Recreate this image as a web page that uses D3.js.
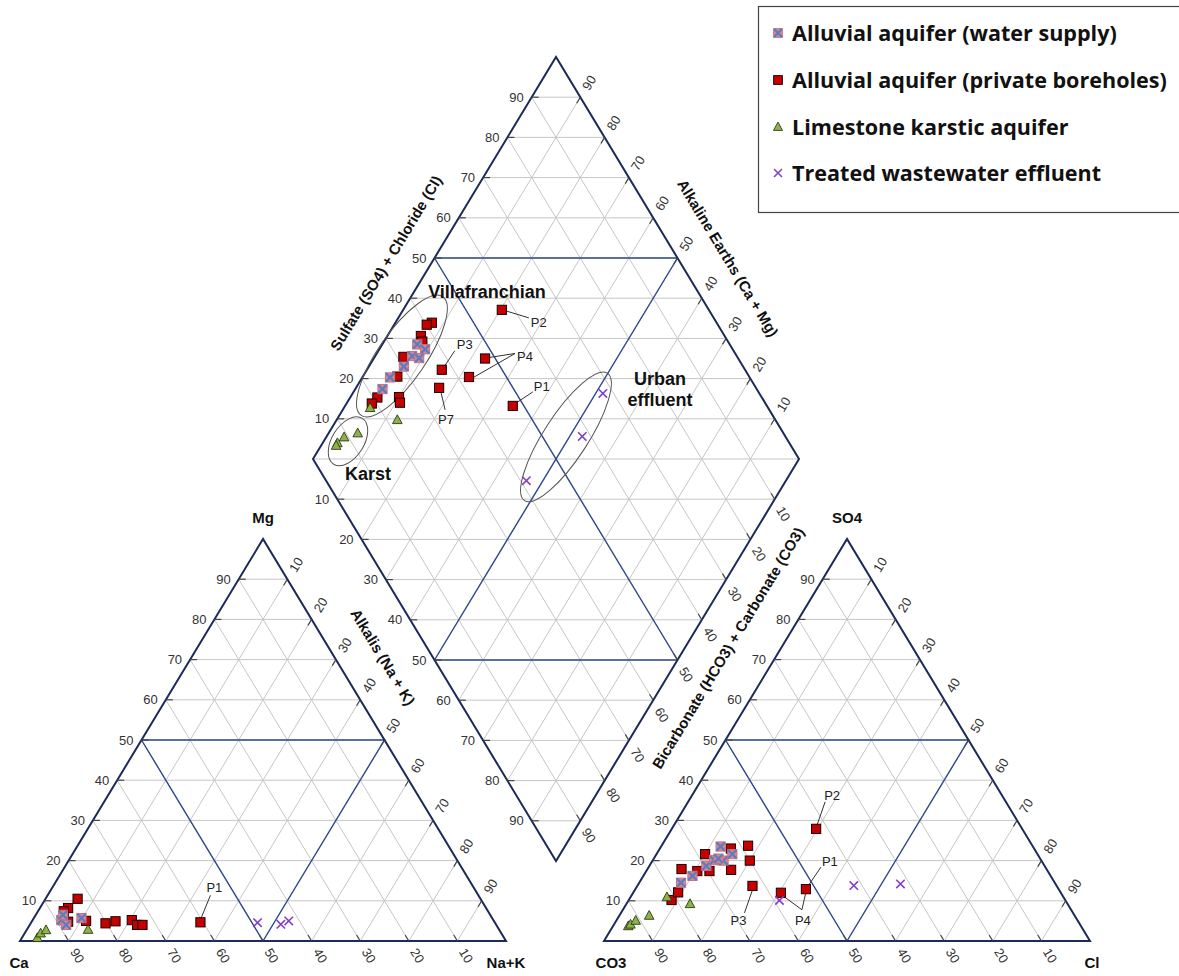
<!DOCTYPE html>
<html><head><meta charset="utf-8">
<script src="https://cdn.jsdelivr.net/npm/d3@7"></script>
<style>body{margin:0;background:#fff} svg{display:block}</style>
</head><body>
<script>
// ---------------- DATA ----------------
const tickValues = [10,20,30,40,50,60,70,80,90];
const seriesNames = ["Alluvial aquifer (water supply)","Alluvial aquifer (private boreholes)","Limestone karstic aquifer","Treated wastewater effluent"];
// Cation triangle: [Mg %, Na+K %]
const cationSupply    = [[5.2,5.9],[4.0,7.5],[5.7,9.8],[6.5,5.6]];
const cationBoreholes = [[10.5,6.6],[8.2,5.8],[7.4,5.3],[5.2,6.3],[4.8,7.5],[5.0,11.1],[4.4,15.4],[4.9,17.2],[5.2,20.4],[4.0,22.1],[4.0,23.2],[4.65,34.8]];
const cationKarst     = [[0.75,3.2],[1.9,3.3],[2.7,4.0],[2.8,12.6]];
const cationEffluent  = [[4.55,46.6],[4.15,51.6],[5.0,52.8]];
// Anion triangle: [SO4 %, Cl %]
const anionSupply    = [[14.5,8.6],[16.2,10.1],[18.7,11.7],[20.1,12.6],[23.5,12.25],[20.0,14.6],[21.6,15.6],[20.5,13.3]];
const anionBoreholes = [[10.2,8.8],[12.1,9.2],[17.9,7.0],[17.4,10.5],[21.6,10.0],[17.4,13.0],[23.0,14.6],[17.7,17.3],[23.7,17.8],[20.0,20.0],[13.7,23.7],[12.0,30.4],[12.9,35.1],[27.9,29.7]];
const anionKarst     = [[3.7,3.15],[4.1,3.4],[5.05,4.0],[6.3,6.15],[10.9,7.5],[9.2,13.1]];
const anionEffluent  = [[10.1,31.05],[13.8,44.5],[14.2,53.9]];
// Diamond: [SO4+Cl %, Na+K %]
const diamondSupply    = [[35.7,7.2],[36.7,9.4],[33.2,7.6],[34.4,9.3],[30.2,7.2],[26.0,5.7],[23.0,5.6]];
const diamondBoreholes = [[41.4,7.5],[40.1,6.7],[37.5,6.9],[37.1,7.9],[31.3,5.9],[27.6,7.1],[20.9,5.6],[19.0,5.2],[25.4,10.0],[24.9,10.9],[57.4,20.3],[47.9,22.9],[42.3,21.9],[37.6,15.4],[34.8,17.1],[47.7,34.5]];
const diamondKarst     = [[18.1,5.4],[22.2,12.5],[12.4,6.0],[9.1,3.7],[7.0,3.05],[6.4,3.1]];
const diamondEffluent  = [[67.8,51.5],[58.2,52.6],[41.2,46.6]];
// Labelled samples: panel, label, value pair, extra value pair (second target)
const labelledSamples = [
  {panel:"dia", label:"P2", v:[57.4,20.3]},
  {panel:"dia", label:"P4", v:[47.9,22.9], v2:[42.3,21.9]},
  {panel:"dia", label:"P3", v:[37.6,15.4]},
  {panel:"dia", label:"P7", v:[34.8,17.1]},
  {panel:"dia", label:"P1", v:[47.7,34.5]},
  {panel:"cat", label:"P1", v:[4.65,34.8]},
  {panel:"an",  label:"P2", v:[27.9,29.7]},
  {panel:"an",  label:"P1", v:[12.9,35.1]},
  {panel:"an",  label:"P3", v:[13.7,23.7]},
  {panel:"an",  label:"P4", v:[12.0,30.4], v2:[12.9,35.1]}
];
// Group envelopes in the diamond: centre [SO4+Cl, Na+K]
const groupNames = ["Villafranchian","Karst","Urban effluent"];
const groupCentres = [[31.1,5.5],[9.4,5.0],[54.8,49.3]];

// ---------------- LAYOUT / STYLE ----------------
const W=1179,H=976;
const NAVY="#1c2a5a", BLUE="#2d4a8c", GRID="#c6c6c6";
const FONT="'Liberation Sans', Arial, sans-serif";
const svg=d3.select("body").append("svg").attr("width",W).attr("height",H).style("background","#fff");
const sx=d3.scaleLinear().domain([0,100]).range([0,486]);
const sy=d3.scaleLinear().domain([0,100]).range([0,402]);
const ORIG={cat:[20,941], an:[604,941], dia:[313,459]};
const triPt=(o,top,right)=>[o[0]+sx(right+top/2), o[1]-sy(top)];
const diaPt=(a,c)=>[ORIG.dia[0]+sx((a+c)/2), ORIG.dia[1]-sy(a-c)];
const ptOf=(panel,v)=>panel==="dia"?diaPt(v[0],v[1]):triPt(ORIG[panel],v[0],v[1]);
const L=Math.hypot(sx(50),sy(100));
const dDown=[sx(50)/L, sy(100)/L], dUp=[sx(50)/L,-sy(100)/L];
const ANG=Math.atan2(sy(100),sx(50))*180/Math.PI;
const add=(p,d,k)=>[p[0]+d[0]*k,p[1]+d[1]*k];

const gGrid=svg.append("g").attr("stroke",GRID).attr("stroke-width",1).attr("fill","none");
const seg=(g,a,b)=>g.append("line").attr("x1",a[0]).attr("y1",a[1]).attr("x2",b[0]).attr("y2",b[1]);

// triangle grids
["cat","an"].forEach(k=>{
  const o=ORIG[k];
  tickValues.forEach(t=>{
    seg(gGrid,triPt(o,t,0),triPt(o,t,100-t));
    seg(gGrid,triPt(o,0,t),triPt(o,100-t,t));
    seg(gGrid,triPt(o,0,100-t),triPt(o,100-t,0));
  });
});
// diamond grid
tickValues.forEach(t=>{ seg(gGrid,diaPt(t,0),diaPt(t,100)); seg(gGrid,diaPt(0,t),diaPt(100,t)); });
d3.range(-90,100,10).forEach(d=>{ if(d>=0) seg(gGrid,diaPt(d,0),diaPt(100,100-d)); else seg(gGrid,diaPt(0,-d),diaPt(100+d,100)); });

// blue subdivision lines
const gBlue=svg.append("g").attr("stroke",BLUE).attr("stroke-width",1.4).attr("fill","none");
const lineGen=d3.line();
["cat","an"].forEach(k=>{
  const o=ORIG[k];
  gBlue.append("path").attr("d",lineGen([triPt(o,50,0),triPt(o,0,50),triPt(o,50,50),triPt(o,50,0)]));
});
[[diaPt(50,0),diaPt(50,100)],[diaPt(0,50),diaPt(100,50)],[diaPt(50,0),diaPt(100,50)],[diaPt(0,50),diaPt(50,100)]]
  .forEach(p=>gBlue.append("path").attr("d",lineGen(p)));

// outlines
const gOut=svg.append("g").attr("stroke",NAVY).attr("stroke-width",2).attr("fill","none").attr("stroke-linejoin","miter");
["cat","an"].forEach(k=>{const o=ORIG[k]; gOut.append("path").attr("d",lineGen([triPt(o,0,0),triPt(o,100,0),triPt(o,0,100)])+"Z");});
gOut.append("path").attr("d",lineGen([diaPt(0,0),diaPt(100,0),diaPt(100,100),diaPt(0,100)])+"Z");

// ticks + tick labels
const gTick=svg.append("g").attr("stroke","#444").attr("stroke-width",1.2);
const gLab=svg.append("g").attr("font-family",FONT).attr("font-size",13).attr("fill","#333");
function hLabel(p,t){ seg(gTick,p,[p[0]+7,p[1]]); gLab.append("text").attr("x",p[0]-8).attr("y",p[1]).attr("dy","0.36em").attr("text-anchor","end").text(t); }
function rLabel(p,dir,rot,t){ seg(gTick,p,add(p,dir,-7)); const q=add(p,dir,17);
  gLab.append("text").attr("transform",`translate(${q[0]},${q[1]}) rotate(${rot})`).attr("dy","0.36em").attr("text-anchor","middle").text(t); }
["cat","an"].forEach(k=>{
  const o=ORIG[k];
  tickValues.forEach(t=>{
    hLabel(triPt(o,t,0),t);
    rLabel(triPt(o,0,100-t),dDown,ANG,t);
    rLabel(triPt(o,100-t,t),dUp,-ANG,t);
  });
});
tickValues.forEach(t=>{
  hLabel(diaPt(t,0),t);
  hLabel(diaPt(0,t),t);
  rLabel(diaPt(100,100-t),dUp,-ANG,t);
  rLabel(diaPt(100-t,100),dDown,ANG,t);
});

// vertex + axis titles
const gTitle=svg.append("g").attr("font-family",FONT).attr("font-weight","bold").attr("fill","#111").attr("text-anchor","middle");
[["Mg",triPt(ORIG.cat,100,0),0,-16],["SO4",triPt(ORIG.an,100,0),0,-16],["Ca",triPt(ORIG.cat,0,0),-1,27],["Na+K",triPt(ORIG.cat,0,100),0,27],["CO3",triPt(ORIG.an,0,0),7,27],["Cl",triPt(ORIG.an,0,100),2,27]]
 .forEach(([t,p,dx,dy])=>gTitle.append("text").attr("x",p[0]+dx).attr("y",p[1]+dy).attr("font-size",15).text(t));
[["Alkalis (Na + K)",383,657,ANG],["Sulfate (SO4) + Chloride (Cl)",386,263,-ANG],["Alkaline Earths (Ca + Mg)",728,258,ANG],["Bicarbonate (HCO3) + Carbonate (CO3)",728,648,-ANG]]
 .forEach(([t,x,y,r])=>gTitle.append("text").attr("transform",`translate(${x},${y}) rotate(${r})`).attr("dy","0.36em").attr("font-size",15).text(t));

// group envelopes
const ellipseShape=[[72,24,-55.5],[27,16,-58],[76,22,-57]];
const gEll=svg.append("g").attr("fill","none").attr("stroke","#555").attr("stroke-width",1);
groupCentres.forEach((c,i)=>{const p=diaPt(c[0],c[1]); const s=ellipseShape[i];
  gEll.append("ellipse").attr("cx",0).attr("cy",0).attr("rx",s[0]).attr("ry",s[1]).attr("transform",`translate(${p[0]},${p[1]}) rotate(${s[2]})`);});
const groupText=[[["Villafranchian"],487,298],[["Karst"],368,480],[["Urban","effluent"],660,385]];
const gGT=svg.append("g").attr("font-family",FONT).attr("font-weight","bold").attr("font-size",18).attr("fill","#111").attr("text-anchor","middle");
groupText.forEach(([lines,x,y])=>lines.forEach((l,j)=>gGT.append("text").attr("x",x).attr("y",y+j*21).text(l)));

// annotation leaders
const annoLayout={ // text offset [dx,dy baseline], leader [from],[to] relative to point, second leader
 "dia-P2":{t:[29,17],l:[[4,1],[27,8]]},
 "dia-P4":{t:[32,2],l:[[30,-5],[4,-1]],l2:[30,-5]},
 "dia-P3":{t:[15,-21],l:[[3,-4],[13,-19]]},
 "dia-P7":{t:[-1,36],l:[[2,5],[6,22]]},
 "dia-P1":{t:[21,-15],l:[[5,-4],[20,-14]]},
 "cat-P1":{t:[6,-30],l:[[1,-5],[10,-27]]},
 "an-P2":{t:[8,-29],l:[[1,-4],[9,-27]]},
 "an-P1":{t:[16,-23],l:[[2,-3],[15,-22]]},
 "an-P3":{t:[-22,39],l:[[0,4],[-8,27]]},
 "an-P4":{t:[14,32],l:[[21,17],[2,3]],l2:[21,17]}
};
const gAnno=svg.append("g");
labelledSamples.forEach(s=>{
  const p=ptOf(s.panel,s.v); const lay=annoLayout[s.panel+"-"+s.label];
  gAnno.append("line").attr("stroke","#333").attr("x1",p[0]+lay.l[0][0]).attr("y1",p[1]+lay.l[0][1]).attr("x2",p[0]+lay.l[1][0]).attr("y2",p[1]+lay.l[1][1]);
  if(s.v2){const q=ptOf(s.panel,s.v2); gAnno.append("line").attr("stroke","#333").attr("x1",p[0]+lay.l2[0]).attr("y1",p[1]+lay.l2[1]).attr("x2",q[0]).attr("y2",q[1]+3);}
  gAnno.append("text").attr("x",p[0]+lay.t[0]).attr("y",p[1]+lay.t[1]).attr("font-family",FONT).attr("font-size",13).attr("fill","#222").text(s.label);
});

// markers
const S=4.6;
const markers=[
  g=>{g.append("rect").attr("x",-S).attr("y",-S).attr("width",2*S).attr("height",2*S).attr("fill","#d8868f").attr("stroke","#c7747e").attr("stroke-width",1);
      g.append("path").attr("d",`M${-S+0.5},${-S+0.5}L${S-0.5},${S-0.5}M${S-0.5},${-S+0.5}L${-S+0.5},${S-0.5}`).attr("stroke","#5a7cc4").attr("stroke-width",2.2);},
  g=>{g.append("rect").attr("x",-S).attr("y",-S).attr("width",2*S).attr("height",2*S).attr("fill","#c40000").attr("stroke","#1a0000").attr("stroke-width",1);},
  g=>{g.append("path").attr("d","M0,-5.2L4.8,3.6L-4.8,3.6Z").attr("fill","#8db24c").attr("stroke","#2a3a10").attr("stroke-width",0.9);},
  g=>{g.append("path").attr("d","M-4.2,-4.2L4.2,4.2M4.2,-4.2L-4.2,4.2").attr("stroke","#8440c4").attr("stroke-width",1.6);}
];
const panelSeries=[
  ["cat",[cationBoreholes,cationSupply,cationKarst,cationEffluent]],
  ["an",[anionBoreholes,anionSupply,anionKarst,anionEffluent]],
  ["dia",[diamondBoreholes,diamondSupply,diamondKarst,diamondEffluent]]
];
const drawOrder=[1,0,2,3];
const gPts=svg.append("g");
panelSeries.forEach(([panel,arrs])=>{
  arrs.forEach((arr,i)=>{
    const mi=drawOrder[i];
    arr.forEach(v=>{const p=ptOf(panel,v); const g=gPts.append("g").attr("transform",`translate(${p[0]},${p[1]})`); markers[mi](g);});
  });
});

// legend
const gLeg=svg.append("g");
gLeg.append("rect").attr("x",758.5).attr("y",6.5).attr("width",440).attr("height",206).attr("fill","#fff").attr("stroke","#444").attr("stroke-width",1.2);
const legY=[33,80,127,173];
const legTexts=[];
seriesNames.forEach((n,i)=>{
  const g=gLeg.append("g").attr("transform",`translate(778,${legY[i]})`);
  const sc=g.append("g").attr("transform","scale(0.95)"); markers[i](sc);
  legTexts.push(gLeg.append("text").attr("x",792).attr("y",legY[i]).attr("dy","0.35em").attr("font-family","'Open Sans', 'Noto Sans', sans-serif").attr("font-weight","bold").attr("font-size",20).attr("fill","#111").text(n));
});
const w2=legTexts[1].node().getComputedTextLength();
const fs=20*375/w2;
legTexts.forEach(t=>t.attr("font-size",fs.toFixed(2)));
</script>
</body></html>
